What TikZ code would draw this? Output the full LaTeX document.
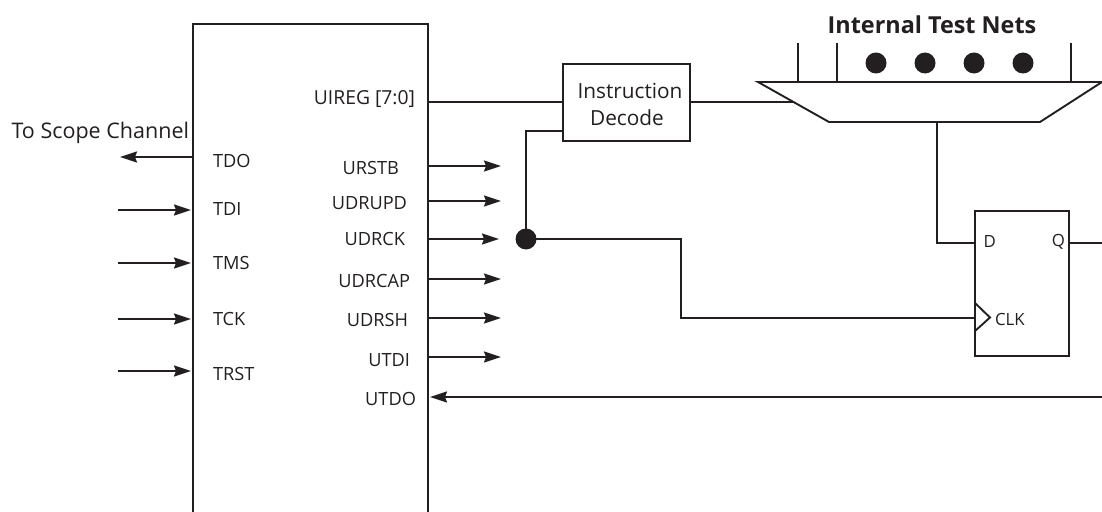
\documentclass[tikz,border=0pt]{standalone}
\usepackage{fontspec}
\setmainfont{Open Sans}
\usetikzlibrary{arrows.meta}
\definecolor{ink}{HTML}{231F20}
\tikzset{
  x=1pt,y=-1pt,
  wire/.style={draw=ink,line width=1.9pt,line cap=butt,line join=miter},
  sig/.style={wire,-{Stealth[length=17pt,width=11pt,inset=2pt]}},
  lbl/.style={text=ink,font=\fontsize{18.2}{21}\selectfont,inner sep=0pt,outer sep=0pt},
  big/.style={text=ink,font=\fontsize{20.8}{24}\selectfont,inner sep=0pt,outer sep=0pt},
  small/.style={text=ink,font=\fontsize{16.8}{20}\selectfont,inner sep=0pt,outer sep=0pt},
  boxn/.style={draw=ink,line width=1.9pt,fill=white,inner sep=0pt,outer sep=0pt},
  dotn/.style={circle,fill=ink,minimum size=21pt,inner sep=0pt,outer sep=0pt}
}
\begin{document}
\begin{tikzpicture}
\useasboundingbox (0,0) rectangle (1102,511);
\clip (0,0) rectangle (1102,511);
% chip (its lower edge runs off the picture)
\node[boxn,minimum width=235pt,minimum height=510pt,anchor=north west] (chip) at (193,24) {};
% instruction decode
\node[boxn,minimum width=127pt,minimum height=77pt,anchor=north west] (dec) at (563,64) {};
\node[big] (decA) at (630,90.5) {Instruction};
\node[big] (decB) at (627,118) {Decode};
% mux
\coordinate (m1) at (758,82);
\coordinate (m2) at (1102,82);
\coordinate (m3) at (1040,122);
\coordinate (m4) at (829,122);
\coordinate (mout) at (937,122);
\coordinate (min) at (793,102);
\draw[wire] (m1) -- (m2) -- (m3) -- (m4) -- cycle;
\foreach \n/\x in {a/798,b/837,c/1071}{
  \coordinate (s\n t) at (\x,43);
  \coordinate (s\n b) at (\x,82);
  \draw[wire] (s\n t) -- (s\n b);
}
\foreach \n/\x in {a/876,b/925,c/974,d/1023}{
  \node[dotn] (net\n) at (\x,63) {};
}
\node[text=ink,font=\fontsize{23.4}{27}\selectfont\bfseries,inner sep=0pt] (title) at (932,25) {Internal Test Nets};
% flip-flop
\node[boxn,minimum width=94pt,minimum height=145pt,anchor=north west] (ff) at (975,211) {};
\node[small,anchor=west] (ffD) at (983.5,241.5) {D};
\node[small,anchor=east] (ffQ) at (1065,241.5) {Q};
\node[small,anchor=west] (ffC) at (995,319) {CLK};
\coordinate (ck1) at (975,303);
\coordinate (ck2) at (990,317.5);
\coordinate (ck3) at (975,331);
\draw[wire] (ck1) -- (ck2) -- (ck3);
\coordinate (ffDin) at (975,243);
\coordinate (ffQout) at (1069,243);
\coordinate (qend) at (1102,243);
% left pins
\coordinate (tdoS) at (193,157); \coordinate (tdoE) at (120,157);
\draw[sig] (tdoS) -- (tdoE);
\foreach \n/\y in {tdi/210,tms/263,tck/319,trst/371}{
  \coordinate (\n S) at (118,\y);
  \coordinate (\n E) at (191,\y);
  \draw[sig] (\n S) -- (\n E);
}
\node[big,font=\fontsize{21.5}{24}\selectfont,anchor=east] (scope) at (189,133) {To Scope Channel};
\node[lbl,anchor=west] (lTDO) at (213,161) {TDO};
\node[lbl,anchor=west] (lTDI) at (213,209) {TDI};
\node[lbl,anchor=west] (lTMS) at (213,263) {TMS};
\node[lbl,anchor=west] (lTCK) at (213,319) {TCK};
\node[lbl,anchor=west] (lTRST) at (213,374) {TRST};
% right pins
\foreach \n/\y in {ursb/166,upd/201,ucap/279,ush/318,utdi/357}{
  \coordinate (\n S) at (428,\y);
  \coordinate (\n E) at (501,\y);
  \draw[sig] (\n S) -- (\n E);
}
\node[lbl,font=\fontsize{19.3}{22}\selectfont,anchor=east] (lUIREG) at (415,99) {UIREG [7:0]};
\node[lbl,anchor=east] (lURSTB) at (399,168) {URSTB};
\node[lbl,anchor=east] (lUDRUPD) at (407,203) {UDRUPD};
\node[lbl,anchor=east] (lUDRCK) at (405,239) {UDRCK};
\node[lbl,anchor=east] (lUDRCAP) at (410,281) {UDRCAP};
\node[lbl,anchor=east] (lUDRSH) at (408,320) {UDRSH};
\node[lbl,anchor=east] (lUTDI) at (410,360) {UTDI};
\node[lbl,anchor=east] (lUTDO) at (416,399) {UTDO};
% nets
\node[dotn] (junc) at (526,239) {};
\coordinate (ckS) at (428,239);
\coordinate (decU) at (428,102);
\coordinate (decUe) at (563,102);
\coordinate (decO) at (690,102);
\coordinate (decC) at (563,131);
\coordinate (bend1) at (526,131);
\coordinate (bend2) at (681,239);
\coordinate (bend3) at (681,318);
\coordinate (ckE) at (975,318);
\coordinate (dBend) at (937,243);
\coordinate (uS) at (1102,397);
\coordinate (uE) at (430,397);
\draw[wire] (decU) -- (decUe);
\draw[wire] (decO) -- (min);
\draw[wire] (decC) -- (bend1) -- (junc.center);
\draw[sig] (ckS) -- (499,239);
\draw[wire] (junc.center) -- (bend2) -- (bend3) -- (ckE);
\draw[wire] (mout) -- (dBend) -- (ffDin);
\draw[wire] (ffQout) -- (qend);
\draw[sig] (uS) -- (uE);
\end{tikzpicture}
\end{document}
